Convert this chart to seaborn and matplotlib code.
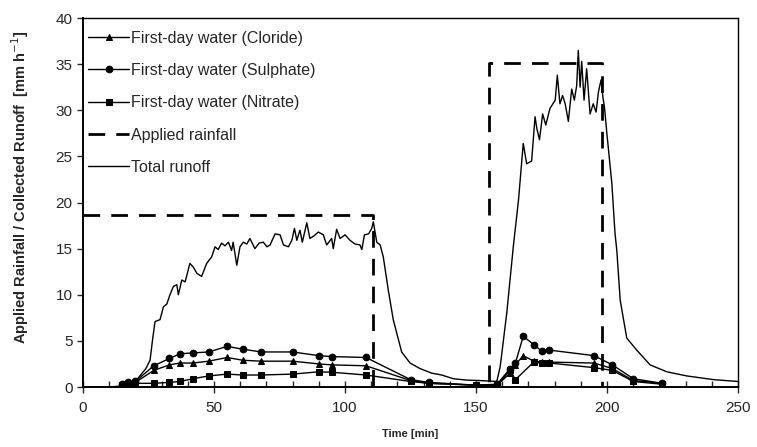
import pandas as pd
import matplotlib
matplotlib.use("Agg")
import matplotlib.pyplot as plt
import seaborn as sns
from matplotlib.ticker import MultipleLocator

# total runoff [mm/h]
runoff_time = [0, 10, 18, 20, 22, 24, 25.6, 26.5, 27.5, 29.4, 30.7, 32, 33.2, 34.5, 35.8, 36.4,
               37.7, 39, 40.8, 42.1, 43.5, 45.3, 47.2, 49.1, 50.4, 51.6, 52.9, 54.2, 55.5, 56.7,
               57.3, 58.7, 59.9, 61.2, 62.5, 63.7, 65.6, 67.2, 68.8, 70.2, 71.4, 73.3, 75.2, 76.5,
               78.4, 79.7, 80.7, 81.6, 82.8, 83.7, 85.4, 86.6, 88.2, 89.8, 91.7, 93, 94.9, 95.5,
               96.8, 98.1, 100, 101.9, 103.8, 105.7, 106.4, 107.4, 109, 110.2, 110.8, 112.1, 113.4,
               114.6, 116.5, 118.4, 121.6, 124.8, 128.6, 133.1, 136.9, 141.3, 146.4, 151.5, 157.9,
               159.2, 161.7, 164.2, 166.2, 168, 169.3, 171.2, 172.5, 173.2, 174.2, 175.4, 176.6,
               178.2, 180.2, 181, 182, 183, 184, 185.2, 186.5, 187.5, 188.4, 189, 189.7, 190.3,
               191.2, 192.2, 193.5, 194.7, 195.8, 196.7, 197.7, 198.4, 199, 199.9, 201.8, 203,
               203.7, 205, 207.5, 211.3, 216.4, 222.8, 230.4, 240.6, 250]
runoff_value = [0, 0, 0.2, 0.6, 1.3, 2.0, 2.9, 5.0, 7.1, 7.3, 8.7, 9.0, 10.0, 10.9, 11.1, 10.0,
                11.6, 11.4, 13.4, 13.0, 12.3, 12.0, 13.4, 14.1, 15.2, 14.9, 15.6, 15.3, 15.7, 14.8,
                15.7, 13.2, 15.2, 15.7, 15.5, 16.1, 15.0, 15.6, 15.7, 15.2, 15.4, 16.6, 16.5, 15.4,
                15.2, 15.9, 17.2, 15.9, 17.0, 15.7, 17.8, 16.1, 16.4, 16.8, 16.5, 15.4, 16.1, 15.0,
                17.1, 16.1, 16.5, 15.9, 15.5, 15.4, 14.9, 16.5, 16.6, 17.2, 17.9, 15.7, 15.4,
                14.1, 10.5, 7.3, 3.8, 2.6, 2.0, 1.5, 1.3, 0.9, 0.75, 0.7, 0.6,
                2.2, 8.0, 15.2, 20.3, 26.4, 24.2, 24.5, 29.3, 28.0, 26.8, 29.6, 28.4,
                30.2, 31.1, 33.8, 30.7, 31.6, 30.7, 28.8, 32.3, 31.1, 32.7, 36.5, 32.5, 35.3,
                31.1, 34.5, 29.6, 30.7, 29.8, 32.0, 33.3, 31.4, 30.3, 27.5, 22.1, 16.7,
                14.8, 9.4, 5.3, 4.0, 2.4, 1.65, 1.2, 0.8, 0.6]

# applied rainfall (two rain events)
rain_time = [0, 110.5, 110.5, 155, 155, 198, 198]
rain_value = [18.6, 18.6, 0, 0, 35.1, 35.1, 0]

# first-day water samples
conc_time = [15, 17, 20, 27, 33, 37, 42, 48, 55, 61, 68, 80, 90, 95, 108, 125, 132, 150, 158,
             163, 165, 168, 172, 175, 178, 195, 202, 210, 221]
cloride = [0.3, 0.4, 0.5, 1.8, 2.4, 2.6, 2.6, 2.8, 3.2, 2.9, 2.8, 2.8, 2.5, 2.4, 2.3, 0.7, 0.4,
           0.2, 0.2, 1.5, 2.4, 3.4, 2.8, 2.7, 2.7, 2.6, 2.0, 0.7, 0.4]
sulphate = [0.3, 0.5, 0.6, 2.3, 3.1, 3.6, 3.7, 3.8, 4.4, 4.1, 3.8, 3.8, 3.4, 3.3, 3.2, 0.8, 0.5,
            0.2, 0.3, 2.0, 2.6, 5.5, 4.6, 3.9, 4.0, 3.4, 2.4, 0.9, 0.4]
nitrate_time = [15, 17, 20, 27, 33, 37, 42, 48, 55, 61, 68, 80, 90, 95, 108, 125, 132, 150, 158,
                163, 165, 172, 175, 178, 195, 202, 210, 221]
nitrate = [0.2, 0.3, 0.4, 0.4, 0.5, 0.6, 0.9, 1.2, 1.4, 1.3, 1.3, 1.4, 1.65, 1.6, 1.3, 0.6, 0.4,
           0.2, 0.2, 1.8, 0.8, 2.7, 2.6, 2.6, 2.1, 1.8, 0.6, 0.3]

sns.set_style("ticks")
plt.rcParams["font.family"] = ["Liberation Sans", "DejaVu Sans"]

fig = plt.figure(figsize=(7.57, 4.47), dpi=100)
ax = fig.add_axes([0.1096, 0.1342, 0.8655, 0.8255])

common = dict(color="black", estimator=None, sort=False, ax=ax)
mk = dict(markersize=4.8, markeredgecolor="black", markerfacecolor="black", linewidth=1.0)

sns.lineplot(x=runoff_time, y=runoff_value, linewidth=1.0, **common)
l_runoff = ax.lines[-1]
sns.lineplot(x=rain_time, y=rain_value, linewidth=2.0, **common)
l_rain = ax.lines[-1]
l_rain.set_dashes([6, 4])
sns.lineplot(x=conc_time, y=cloride, marker="^", **mk, **common)
l_cl = ax.lines[-1]
sns.lineplot(x=conc_time, y=sulphate, marker="o", **mk, **common)
l_so = ax.lines[-1]
sns.lineplot(x=nitrate_time, y=nitrate, marker="s", **mk, **common)
l_no = ax.lines[-1]

ax.set_xlim(0, 250)
ax.set_ylim(0, 40)
ax.xaxis.set_major_locator(MultipleLocator(50))
ax.xaxis.set_minor_locator(MultipleLocator(10))
ax.yaxis.set_major_locator(MultipleLocator(5))
ax.tick_params(axis="x", which="major", direction="inout", length=8, width=1, labelsize=11, pad=6)
ax.tick_params(axis="x", which="minor", direction="in", length=4, width=1)
ax.tick_params(axis="y", which="major", direction="out", length=4, width=1, labelsize=11)
for s in ax.spines.values():
    s.set_visible(True)
    s.set_color("black")
    s.set_linewidth(1.0)
ax.spines["left"].set_linewidth(1.4)
ax.spines["bottom"].set_linewidth(1.4)

ax.set_xlabel("Time [min]", fontsize=8, fontweight="bold", labelpad=10)
ax.set_ylabel("Applied Rainfall / Collected Runoff  [mm h$^{-1}$]", fontsize=10.5,
              fontweight="bold")
ax.yaxis.set_label_coords(-0.08, 0.54)

ax.legend([l_cl, l_so, l_no, l_rain, l_runoff],
          ["First-day water (Cloride)", "First-day water (Sulphate)",
           "First-day water (Nitrate)", "Applied rainfall", "Total runoff"],
          loc="upper left", bbox_to_anchor=(-0.012, 1.0), frameon=False, fontsize=11.5,
          handlelength=2.6, handletextpad=0.1, labelspacing=1.08, borderaxespad=0.4)

fig.savefig("out.png", dpi=100)
